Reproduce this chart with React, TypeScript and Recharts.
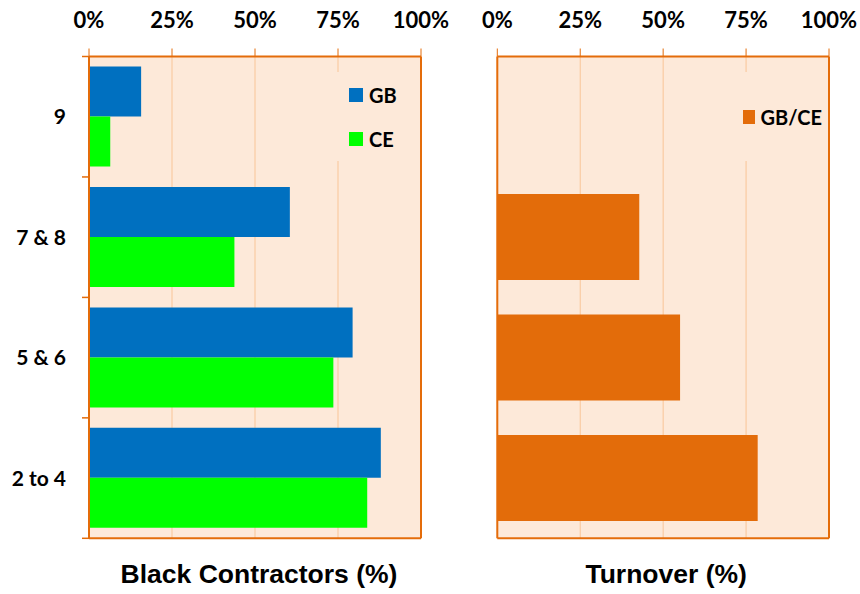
import React from 'react';
import {
  BarChart, Bar, XAxis, YAxis, CartesianGrid, Legend, ReferenceLine, Label,
} from 'recharts';

const categories = ['9', '7 & 8', '5 & 6', '2 to 4'];
const gbContractors = [15.7, 60.5, 79.4, 87.9];
const ceContractors = [6.4, 43.8, 73.6, 83.8];
const turnover: (number | null)[] = [null, 42.8, 55.1, 78.5];
const pctTicks = [0, 25, 50, 75, 100];
const seriesOrder = ['GB', 'CE', 'GB/CE'];

const data = categories.map((c, i) => ({
  cat: c,
  gb: gbContractors[i],
  ce: ceContractors[i],
  to: turnover[i],
}));

const ORANGE = '#e46c0a';
const BG = '#fde9d9';
const GRID = '#f9c597';
const TICK_FONT = { fontFamily: 'Lato', fontWeight: 700, fontSize: 22, fill: '#000' };
const TITLE_FONT = 'Liberation Sans, Arial, sans-serif';
const CAT_MARGIN = 23;
const BOUNDARY_TICK = 7;

const LegendBox = (props: any) => {
  const items = [...(props.payload || [])].sort(
    (a: any, b: any) => seriesOrder.indexOf(a.value) - seriesOrder.indexOf(b.value)
  );
  return (
    <div
      style={{
        width: '100%',
        height: '100%',
        background: BG,
        display: 'flex',
        flexDirection: 'column',
        justifyContent: 'center',
        gap: 22,
      }}
    >
      {items.map((it: any) => (
        <div key={it.value} style={{ display: 'flex', alignItems: 'center', height: 22 }}>
          <div style={{ width: 14, height: 14, background: it.color, marginRight: 6, marginLeft: 16 }} />
          <span style={{ fontFamily: 'Lato', fontWeight: 700, fontSize: 20, color: '#000' }}>{it.value}</span>
        </div>
      ))}
    </div>
  );
};

const CatTick = (props: any) => {
  const { x, y, payload, index, visibleTicksCount } = props;
  const half = payload && typeof payload.offset === 'number' ? payload.offset : 0;
  const ax = x + CAT_MARGIN;
  return (
    <g>
      <text
        x={x}
        y={y}
        dy="0.36em"
        textAnchor="end"
        fontFamily="Lato"
        fontWeight={700}
        fontSize={21}
        fill="#000"
      >
        {payload.value}
      </text>
      <line x1={ax - BOUNDARY_TICK} x2={ax} y1={y - half} y2={y - half} stroke={ORANGE} strokeWidth={1.5} />
      {index === visibleTicksCount - 1 && (
        <line x1={ax - BOUNDARY_TICK} x2={ax} y1={y + half} y2={y + half} stroke={ORANGE} strokeWidth={1.5} />
      )}
    </g>
  );
};

const fmt = (v: number) => `${v}%`;

export default function App() {
  return (
    <div style={{ position: 'absolute', left: 0, top: 0, width: 860, height: 594, background: '#fff' }}>
      <div style={{ position: 'absolute', left: 0, top: 0 }}>
        <BarChart
          width={460}
          height={594}
          data={data}
          layout="vertical"
          margin={{ top: 0, right: 39, bottom: 0, left: 0 }}
          barCategoryGap="8.3%"
          barGap={0}
        >
          <CartesianGrid horizontal={false} stroke={GRID} fill={BG} />
          <XAxis
            type="number"
            orientation="top"
            domain={[0, 100]}
            ticks={pctTicks}
            tickFormatter={fmt}
            height={56.5}
            tickSize={8}
            tickMargin={21}
            tickLine={{ stroke: ORANGE }}
            axisLine={{ stroke: ORANGE, strokeWidth: 2 }}
            tick={TICK_FONT}
          />
          <XAxis
            xAxisId="b"
            type="number"
            orientation="bottom"
            domain={[0, 100]}
            height={55.7}
            tick={false}
            tickLine={false}
            axisLine={{ stroke: ORANGE, strokeWidth: 2 }}
          >
            <Label
              value="Black Contractors (%)"
              position="insideBottom"
              offset={11}
              dx={4}
              style={{ fontFamily: TITLE_FONT, fontWeight: 700, fontSize: 26.5, fill: '#000' }}
            />
          </XAxis>
          <YAxis
            type="category"
            dataKey="cat"
            width={89}
            tickSize={0}
            tickMargin={CAT_MARGIN}
            tickLine={false}
            axisLine={{ stroke: ORANGE, strokeWidth: 2 }}
            tick={CatTick}
            interval={0}
          />
          <ReferenceLine x={100} stroke={ORANGE} strokeWidth={2} />
          <Legend
            layout="vertical"
            align="center"
            verticalAlign="middle"
            content={LegendBox}
            wrapperStyle={{ left: 333, top: 72, width: 82, height: 89 }}
          />
          <Bar dataKey="gb" name="GB" fill="#0070c0" isAnimationActive={false} />
          <Bar dataKey="ce" name="CE" fill="#00ff00" isAnimationActive={false} />
        </BarChart>
      </div>
      <div style={{ position: 'absolute', left: 440, top: 0 }}>
        <BarChart
          width={420}
          height={594}
          data={data}
          layout="vertical"
          margin={{ top: 0, right: 31, bottom: 0, left: 0 }}
          barCategoryGap="14.2%"
          barGap={0}
        >
          <CartesianGrid horizontal={false} stroke={GRID} fill={BG} />
          <XAxis
            type="number"
            orientation="top"
            domain={[0, 100]}
            ticks={pctTicks}
            tickFormatter={fmt}
            height={56.5}
            tickSize={8}
            tickMargin={21}
            tickLine={{ stroke: ORANGE }}
            axisLine={{ stroke: ORANGE, strokeWidth: 2 }}
            tick={TICK_FONT}
          />
          <XAxis
            xAxisId="b"
            type="number"
            orientation="bottom"
            domain={[0, 100]}
            height={55.7}
            tick={false}
            tickLine={false}
            axisLine={{ stroke: ORANGE, strokeWidth: 2 }}
          >
            <Label
              value="Turnover (%)"
              position="insideBottom"
              offset={11}
              dx={3}
              style={{ fontFamily: TITLE_FONT, fontWeight: 700, fontSize: 26.5, fill: '#000' }}
            />
          </XAxis>
          <YAxis
            type="category"
            dataKey="cat"
            width={57.3}
            tick={false}
            tickLine={false}
            axisLine={{ stroke: ORANGE, strokeWidth: 2 }}
          />
          <ReferenceLine x={100} stroke={ORANGE} strokeWidth={2} />
          <Legend
            layout="vertical"
            align="center"
            verticalAlign="middle"
            content={LegendBox}
            wrapperStyle={{ left: 287, top: 72, width: 95, height: 89 }}
          />
          <Bar dataKey="to" name="GB/CE" fill="#e36c0a" isAnimationActive={false} />
        </BarChart>
      </div>
    </div>
  );
}
